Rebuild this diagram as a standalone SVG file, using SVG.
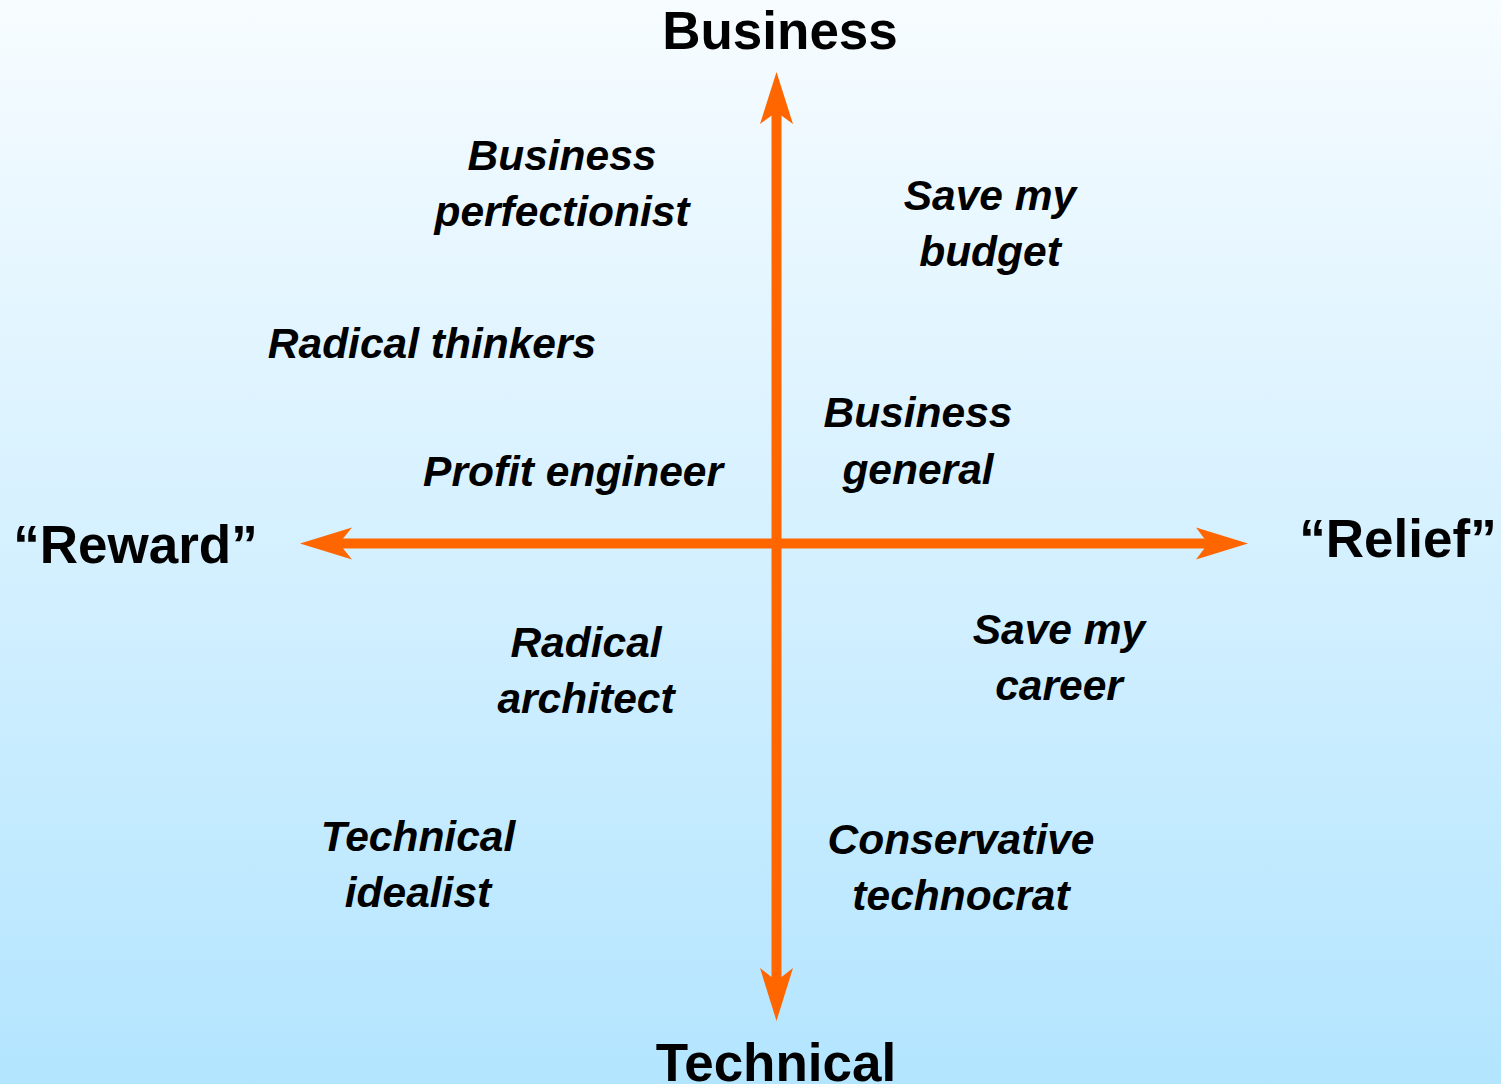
<svg xmlns="http://www.w3.org/2000/svg" width="1501" height="1084" viewBox="0 0 1501 1084">
  <defs>
    <linearGradient id="bg" x1="0" y1="0" x2="0" y2="1">
      <stop offset="0" stop-color="#f7fcff"/>
      <stop offset="1" stop-color="#b3e5ff"/>
    </linearGradient>
    <style>
      .axis { font-family: "Liberation Sans", Arial, sans-serif; font-weight: bold; font-size: 53px; fill: #000; text-anchor: middle; }
      .lbl { font-family: "Liberation Sans", Arial, sans-serif; font-weight: bold; font-style: italic; font-size: 42.5px; fill: #000; text-anchor: middle; }
      .shaft { stroke: #ff6600; stroke-width: 10; fill: none; }
      .head { fill: #ff6600; }
    </style>
  </defs>

  <rect x="0" y="0" width="1501" height="1084" fill="url(#bg)"/>

  <!-- axes -->
  <g id="connectors">
    <line class="shaft" x1="776.5" y1="112" x2="776.5" y2="981"/>
    <line class="shaft" x1="339" y1="543.5" x2="1208" y2="543.5"/>
    <polygon class="head" points="776.5,72 793,124 776.5,112 760,124"/>
    <polygon class="head" points="776.5,1021 793,968 776.5,981 760,968"/>
    <polygon class="head" points="300,543.5 352,527.5 339,543.5 352,559.5"/>
    <polygon class="head" points="1248,543.5 1196,527.5 1208,543.5 1196,559.5"/>
  </g>

  <!-- axis ends -->
  <g id="axis-business"><text class="axis" x="780" y="49">Business</text></g>
  <g id="axis-technical"><text class="axis" x="776" y="1081">Technical</text></g>
  <g id="axis-reward"><text class="axis" x="135.5" y="563">“Reward”</text></g>
  <g id="axis-relief"><text class="axis" x="1398" y="557">“Relief”</text></g>

  <!-- quadrant labels -->
  <g id="business-perfectionist"><text class="lbl" x="562"><tspan x="562" y="170">Business</tspan><tspan x="562" y="226">perfectionist</tspan></text></g>
  <g id="save-my-budget"><text class="lbl" x="990"><tspan x="990" y="210">Save my</tspan><tspan x="990" y="266">budget</tspan></text></g>
  <g id="radical-thinkers"><text class="lbl" x="432" y="358">Radical thinkers</text></g>
  <g id="business-general"><text class="lbl" x="918"><tspan x="918" y="427">Business</tspan><tspan x="918" y="484">general</tspan></text></g>
  <g id="profit-engineer"><text class="lbl" x="573" y="486">Profit engineer</text></g>
  <g id="radical-architect"><text class="lbl" x="586"><tspan x="586" y="657">Radical</tspan><tspan x="586" y="713">architect</tspan></text></g>
  <g id="save-my-career"><text class="lbl" x="1059"><tspan x="1059" y="644">Save my</tspan><tspan x="1059" y="700">career</tspan></text></g>
  <g id="technical-idealist"><text class="lbl" x="418"><tspan x="418" y="851">Technical</tspan><tspan x="418" y="907">idealist</tspan></text></g>
  <g id="conservative-technocrat"><text class="lbl" x="961"><tspan x="961" y="854">Conservative</tspan><tspan x="961" y="910">technocrat</tspan></text></g>
</svg>
